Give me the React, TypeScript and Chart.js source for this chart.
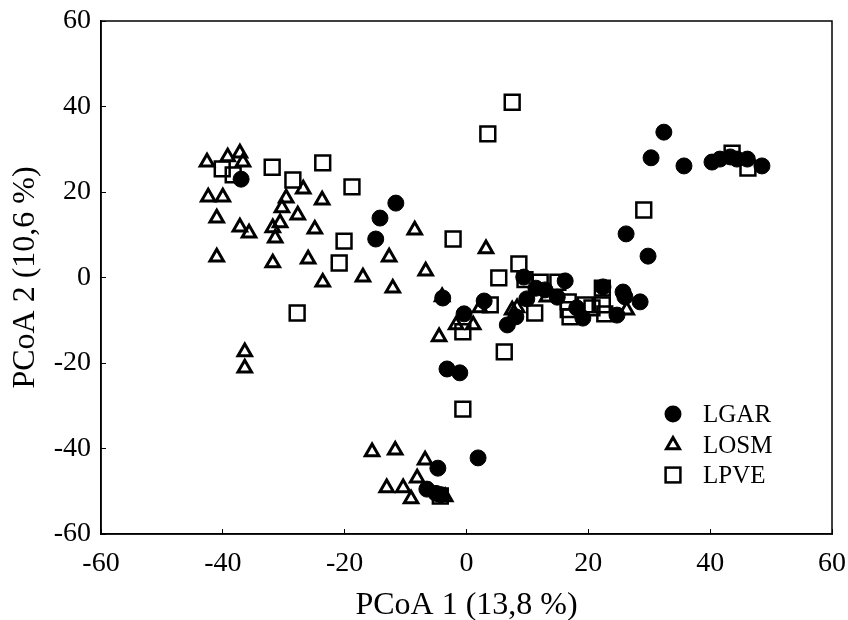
import { useEffect, useRef } from "react";
import { Chart, registerables } from "chart.js";

Chart.register(...registerables);

const seriesNames = ["LGAR", "LOSM", "LPVE"];

const lgarX = [-37.0, -14.9, -14.2, -11.6, -3.9, -3.2, -1.1, -0.4, 2.9, 6.7, 8.1, 9.4, 9.9, 11.4, 12.9, 14.9, 16.2, 18.1, 19.1, 22.4, 24.7, 25.7, 26.0, 28.5, 26.2, 29.8, 30.3, 32.4, 35.7, 40.3, 41.6, 43.3, 44.4, 46.1, 48.5, 1.9, -4.7, -6.5, -5.0, -4.2];
const lgarY = [23.0, 9.0, 13.9, 17.4, -4.8, -21.4, -22.3, -8.5, -5.5, -11.1, -9.2, 0.1, -5.0, -2.5, -2.9, -4.6, -0.8, -7.1, -9.5, -2.2, -8.8, -3.4, -4.5, -5.7, 10.2, 5.0, 28.0, 34.0, 26.1, 27.0, 27.7, 28.2, 27.7, 27.7, 26.1, -42.2, -44.6, -49.5, -50.5, -50.8];

const losmX = [-42.6, -39.2, -37.2, -36.7, -42.4, -40.0, -41.0, -37.2, -35.7, -41.0, -29.6, -26.8, -23.7, -30.3, -30.6, -31.8, -31.4, -27.7, -24.9, -31.8, -26.0, -23.6, -17.0, -12.7, -12.1, -36.4, -36.4, -8.5, 3.2, -6.7, -4.0, -1.7, 1.1, -4.5, 2.2, 7.5, 8.3, 13.2, 26.3, -15.5, -11.7, -6.8, -13.1, -10.4, -8.1, -9.1, -3.5];
const losmY = [27.0, 28.2, 29.1, 27.0, 18.8, 18.8, 13.9, 11.8, 10.4, 4.8, 18.6, 20.7, 18.1, 16.3, 12.8, 11.6, 9.2, 14.6, 11.3, 3.4, 4.3, -1.1, 0.1, 4.8, -2.5, -17.4, -21.2, 11.1, 6.7, 1.5, -4.5, -11.1, -11.1, -13.9, -7.1, -7.6, -7.1, -4.6, -7.6, -40.8, -40.4, -42.7, -49.2, -49.2, -46.9, -51.8, -51.3];

const lpveX = [-40.1, -38.3, -31.9, -23.6, -28.5, -18.8, -20.1, -20.9, -27.8, 7.5, 3.5, -2.2, 8.6, 5.3, 3.9, 11.2, 6.2, -0.6, -0.6, 9.6, 12.1, 15.0, 16.7, 16.7, 17.0, 19.5, 20.6, 22.3, 22.3, 22.7, 29.1, 43.6, 46.2, -4.3];
const lpveY = [25.4, 24.0, 25.8, 26.8, 22.8, 21.2, 8.5, 3.4, -8.3, 41.0, 33.6, 9.0, 3.2, -0.1, -6.4, -8.3, -17.4, -12.7, -30.8, -0.5, -1.1, -1.1, -5.7, -7.5, -9.2, -6.4, -7.1, -6.4, -2.5, -8.5, 15.8, 29.1, 25.6, -51.1];

const axisTicks = [-60, -40, -20, 0, 20, 40, 60];
const xTitle = "PCoA 1 (13,8 %)";
const yTitle = "PCoA 2 (10,6 %)";

const FONT = "'Liberation Serif', 'Times New Roman', serif";

function zip(xs: number[], ys: number[]) {
  return xs.map((x, i) => ({ x, y: ys[i] }));
}

const framePlugin = {
  id: "frame",
  afterDraw(chart: any) {
    const { ctx, chartArea: a } = chart;
    ctx.save();
    ctx.strokeStyle = "#000";
    ctx.lineWidth = 1.5;
    ctx.strokeRect(a.left, a.top, a.right - a.left, a.bottom - a.top);
    ctx.restore();
  },
};

const legendPlugin = {
  id: "innerLegend",
  afterDraw(chart: any) {
    const { ctx, chartArea: a } = chart;
    const mx = a.left + 572;
    const rows = [a.top + 393, a.top + 424, a.top + 454];
    ctx.save();
    ctx.strokeStyle = "#000";
    ctx.fillStyle = "#000";
    ctx.beginPath();
    ctx.arc(mx, rows[0], 8.5, 0, Math.PI * 2);
    ctx.fill();
    const r = 7.5;
    ctx.lineWidth = 3;
    ctx.beginPath();
    ctx.moveTo(mx, rows[1] - r);
    ctx.lineTo(mx + r * 0.866, rows[1] + r / 2);
    ctx.lineTo(mx - r * 0.866, rows[1] + r / 2);
    ctx.closePath();
    ctx.stroke();
    ctx.lineWidth = 2.5;
    const s = 7.4;
    ctx.strokeRect(mx - s, rows[2] - s, 2 * s, 2 * s);
    ctx.font = `25px ${FONT}`;
    ctx.textBaseline = "middle";
    ctx.textAlign = "left";
    seriesNames.forEach((n, i) => ctx.fillText(n, mx + 30, rows[i] + 1));
    ctx.restore();
  },
};

export default function App() {
  const ref = useRef<HTMLCanvasElement | null>(null);
  useEffect(() => {
    if (!ref.current) return;
    Chart.defaults.font.family = FONT;
    Chart.defaults.color = "#000";
    const tickSetter = (s: any) => {
      s.ticks = axisTicks.map((v) => ({ value: v }));
    };
    const clearPad = (s: any) => {
      s.paddingTop = 0;
      s.paddingBottom = 0;
      s.paddingLeft = 0;
      s.paddingRight = 0;
    };
    const chart = new Chart(ref.current, {
      type: "scatter",
      data: {
        datasets: [
          {
            label: seriesNames[0],
            data: zip(lgarX, lgarY),
            pointStyle: "circle",
            pointRadius: 8,
            pointHoverRadius: 8,
            backgroundColor: "#000",
            borderColor: "#000",
            borderWidth: 1,
          },
          {
            label: seriesNames[1],
            data: zip(losmX, losmY),
            pointStyle: "triangle",
            pointRadius: 7.8,
            pointHoverRadius: 7.8,
            backgroundColor: "rgba(0,0,0,0)",
            borderColor: "#000",
            borderWidth: 3,
          },
          {
            label: seriesNames[2],
            data: zip(lpveX, lpveY),
            pointStyle: "rect",
            pointRadius: 10.5,
            pointHoverRadius: 10.5,
            backgroundColor: "rgba(0,0,0,0)",
            borderColor: "#000",
            borderWidth: 2.5,
          },
        ],
      },
      options: {
        animation: false,
        responsive: true,
        maintainAspectRatio: false,
        layout: { padding: { left: 0, right: 16, top: 21, bottom: 0 } },
        plugins: { legend: { display: false }, tooltip: { enabled: false } },
        scales: {
          x: {
            type: "linear",
            min: -60,
            max: 60,
            afterBuildTicks: tickSetter,
            afterFit: (s: any) => {
              s.height = 86;
              clearPad(s);
            },
            ticks: { font: { size: 28 }, color: "#000", padding: 18, maxRotation: 0, autoSkip: false },
            grid: { drawOnChartArea: false, tickLength: -5, color: "#000", lineWidth: 1 },
            border: { display: true, color: "#000", width: 1.5 },
            title: { display: true, text: xTitle, color: "#000", font: { size: 32, lineHeight: 1 }, padding: { top: 0, bottom: -2 } },
          },
          y: {
            type: "linear",
            min: -60,
            max: 60,
            afterBuildTicks: tickSetter,
            afterFit: (s: any) => {
              s.width = 101;
              clearPad(s);
            },
            ticks: { font: { size: 28 }, color: "#000", padding: 15, autoSkip: false },
            grid: { drawOnChartArea: false, tickLength: -5, color: "#000", lineWidth: 1 },
            border: { display: true, color: "#000", width: 1.5 },
            title: { display: true, text: yTitle, color: "#000", font: { size: 32, lineHeight: 1 }, padding: { top: 10, bottom: 0 } },
          },
        },
      },
      plugins: [framePlugin, legendPlugin],
    });
    return () => chart.destroy();
  }, []);
  return (
    <div style={{ position: "absolute", left: 0, top: 0, width: 848, height: 620, background: "#fff" }}>
      <canvas ref={ref} />
    </div>
  );
}
